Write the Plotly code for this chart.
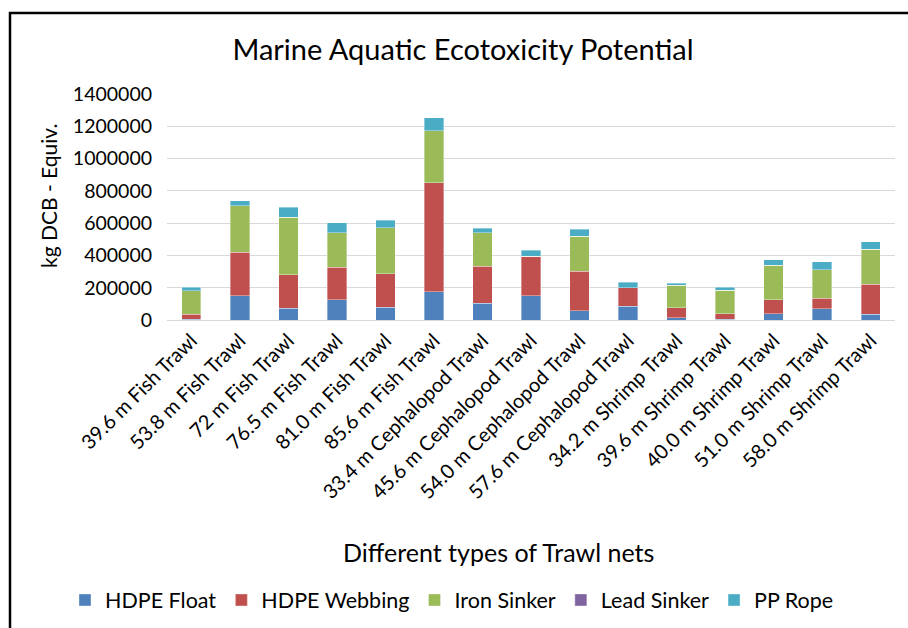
import plotly.graph_objects as go

categories = ["39.6 m Fish Trawl", "53.8 m Fish Trawl", "72 m Fish Trawl", "76.5 m Fish Trawl",
              "81.0 m Fish Trawl", "85.6 m Fish Trawl", "33.4 m Cephalopod Trawl",
              "45.6 m Cephalopod Trawl", "54.0 m Cephalopod Trawl", "57.6 m Cephalopod Trawl",
              "34.2 m Shrimp Trawl", "39.6 m Shrimp Trawl", "40.0 m Shrimp Trawl",
              "51.0 m Shrimp Trawl", "58.0 m Shrimp Trawl"]

hdpe_float = [6000, 150000, 74000, 126000, 80000, 175000, 103000, 150000, 58000, 86000,
              14000, 4000, 39000, 70000, 35000]
hdpe_webbing = [31000, 271000, 206000, 200000, 207000, 675000, 231000, 246000, 245000, 113000,
                61000, 35000, 85000, 64000, 188000]
iron_sinker = [144000, 288000, 357000, 216000, 286000, 321000, 208000, 0, 217000, 0,
               141000, 144000, 214000, 177000, 214000]
lead_sinker = [0] * 15
pp_rope = [23000, 29000, 60000, 60000, 46000, 83000, 25000, 37000, 41000, 36000,
           13000, 21000, 35000, 50000, 47000]

series = [
    ("HDPE Float", hdpe_float, "#4F81BD"),
    ("HDPE Webbing", hdpe_webbing, "#C0504D"),
    ("Iron Sinker", iron_sinker, "#9BBB59"),
    ("Lead Sinker", lead_sinker, "#8064A2"),
    ("PP Rope", pp_rope, "#4BACC6"),
]

FONT = "Lato"

fig = go.Figure()
for name, vals, color in series:
    fig.add_trace(go.Bar(x=categories, y=vals, name=name,
                         marker=dict(color=color, line=dict(width=0.6, color="rgba(255,255,255,0.6)"))))

W, H = 908, 628
l, r, t, b = 167, 13, 94, 308
PW, PH = W - l - r, H - t - b

fig.update_layout(
    width=W, height=H,
    barmode="stack", bargap=0.6,
    paper_bgcolor="white", plot_bgcolor="white",
    margin=dict(l=l, r=r, t=t, b=b, autoexpand=False),
    font=dict(family=FONT, color="#000000", size=19),
    title=dict(text="Marine Aquatic Ecotoxicity Potential", x=463 / W, xanchor="center",
               y=1 - 50 / H, yanchor="middle", font=dict(size=29, family=FONT, color="#000")),
    xaxis=dict(tickangle=-45, showgrid=False, showline=True, linecolor="#d9d9d9", linewidth=1,
               ticks="", tickfont=dict(size=20, family=FONT, color="#000")),
    yaxis=dict(range=[0, 1400000], dtick=200000, tickformat="d", showgrid=True,
               gridcolor="#d9d9d9", gridwidth=1, zeroline=False, ticks="",
               tickfont=dict(size=19.5, family=FONT, color="#000"), ticklabelstandoff=14),
    legend=dict(orientation="h", x=(65 - l) / PW, xanchor="left", y=(320 - 600) / PH, yanchor="middle",
                font=dict(size=21.5, family=FONT, color="#000"), traceorder="normal",
                itemwidth=30),
    showlegend=True,
)

fig.add_annotation(text="Different types of Trawl nets", xref="paper", yref="paper",
                   x=(498 - l) / PW, y=(320 - 552) / PH, xanchor="center", yanchor="middle",
                   showarrow=False, font=dict(size=25, family=FONT, color="#000"))
fig.add_annotation(text="kg DCB - Equiv.", xref="paper", yref="paper",
                   x=(48 - l) / PW, y=(320 - 196) / PH, xanchor="center", yanchor="middle",
                   textangle=-90, showarrow=False, font=dict(size=21, family=FONT, color="#000"))

fig.add_shape(type="rect", xref="paper", yref="paper",
              x0=(10 - l) / PW, x1=(920 - l) / PW,
              y0=(320 - 640) / PH, y1=(320 - 13) / PH,
              line=dict(color="black", width=2.5), fillcolor="rgba(0,0,0,0)", layer="below")

fig.write_html("out.html", config={"displayModeBar": False},
               post_script="document.body.style.margin='0';document.body.style.overflow='hidden';")
